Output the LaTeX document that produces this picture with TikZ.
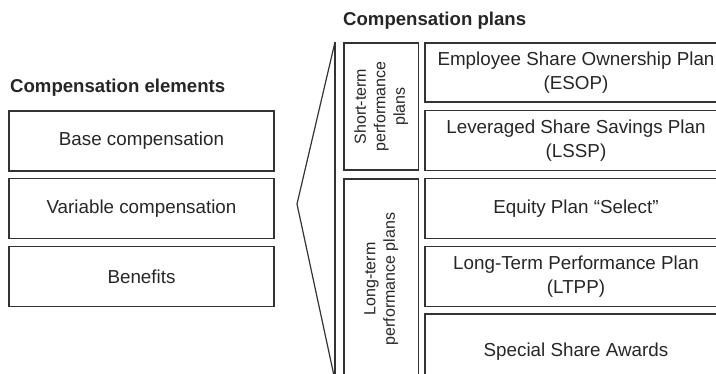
\documentclass[tikz,border=0pt]{standalone}
\usepackage{fontspec}
\setmainfont{Liberation Sans}
\begin{document}
\begin{tikzpicture}[x=1pt,y=-1pt,
  lc/.style={draw=black!80, line width=1.2pt},
  box/.style={lc, rectangle, inner sep=0pt, outer sep=0pt, text=black!85, align=center,
    font=\fontsize{18.8}{23.3}\selectfont},
  lbox/.style={box, minimum width=265pt, minimum height=60pt},
  rbox/.style={box, minimum width=302pt, minimum height=60pt},
  vbox/.style={lc, rectangle, inner sep=0pt, outer sep=0pt, minimum width=74.5pt},
  vtext/.style={rotate=90, align=center, text=black!85, font=\fontsize{16}{19.5}\selectfont},
  title/.style={anchor=west, text=black!85, inner sep=0pt, font=\fontsize{18.6}{22}\selectfont\bfseries}]
\useasboundingbox (0,0) rectangle (716,373);
\begin{scope}
\clip (0,0) rectangle (716,373);
% titles
\node[title] (t1) at (10,88) {Compensation elements};
\node[title] (t2) at (343,21) {Compensation plans};
% left boxes
\node[lbox] (base) at (141.5,141) {Base compensation};
\node[lbox] (var) at (141.5,208.5) {Variable compensation};
\node[lbox] (ben) at (141.5,276.7) {Benefits};
% bracket
\coordinate (btop) at (335,42);
\coordinate (apex) at (297,204);
\coordinate (bbot) at (336,385);
\coordinate (vbot) at (335,385);
\draw[lc, line join=miter] (btop) -- (apex) -- (bbot);
\draw[lc] (btop) -- (vbot);
% category boxes
\node[vbox, minimum height=127pt] (st) at (381.2,106.5) {};
\node[vtext] (stt) at (st.center) {Short-term\\performance\\plans};
\node[vbox, minimum height=200pt] (lt) at (381.2,279) {};
\node[vtext] (ltt) at (381.2,279) {Long-term\\performance plans};
% right boxes
\node[rbox, minimum height=59pt] (esop) at (576,72.5) {Employee Share Ownership Plan\\(ESOP)};
\node[rbox] (lssp) at (576,140.5) {Leveraged Share Savings Plan\\(LSSP)};
\node[rbox] (eq) at (576,208.5) {Equity Plan “Select”};
\node[rbox] (ltpp) at (576,276.7) {Long-Term Performance Plan\\(LTPP)};
\node[rbox, minimum height=75pt] (ssa) at (576,351.5) {Special Share Awards};
\end{scope}
\end{tikzpicture}
\end{document}
